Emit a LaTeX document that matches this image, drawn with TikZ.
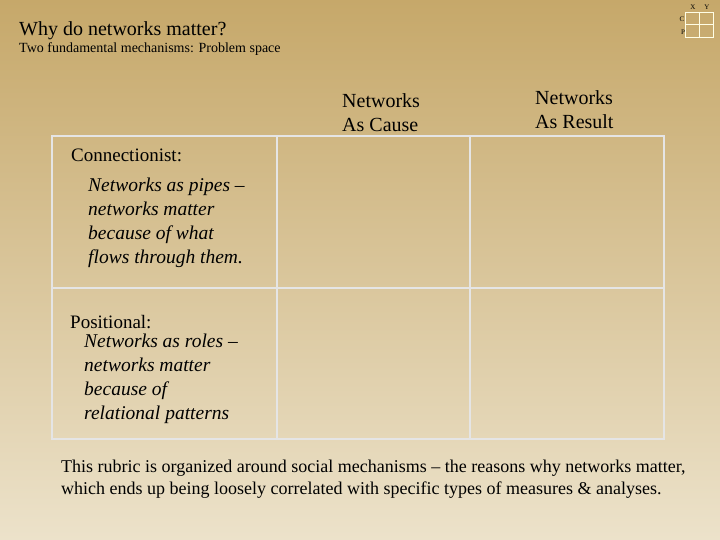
\documentclass[tikz,border=0pt]{standalone}
\usepackage{fontspec}
\setmainfont{Liberation Serif}
\begin{document}
\begin{tikzpicture}[x=1pt,y=-1pt,
  txt/.style={anchor=north west,inner sep=0pt,align=left},
  cellline/.style={draw=white!80!gray,line width=2.5pt},
  tiny/.style={font=\fontsize{7}{7}\selectfont,inner sep=0pt}]
\shade[top color={rgb,255:red,198;green,168;blue,106},bottom color={rgb,255:red,236;green,226;blue,202}] (0,0) rectangle (720,540);
\useasboundingbox (0,0) rectangle (720,540);
% logo
\draw[white!90!yellow,line width=0.8pt] (685,12) rectangle (713,37) (699,12)--(699,37) (685,24.5)--(713,24.5);
\node[tiny] (lx) at (693,7) {X};
\node[tiny] (ly) at (707,7) {Y};
\node[tiny] (lc) at (682,19) {C};
\node[tiny] (lp) at (683,32) {P};
\node[txt,font=\fontsize{20}{22}\selectfont] (title) at (19,21) {Why do networks matter?};
\node[txt,font=\fontsize{14}{16}\selectfont] (sub) at (19,42) {Two fundamental mechanisms: Problem space};
% table
\draw[cellline] (52,136) rectangle (664,439);
\draw[cellline] (277,136)--(277,439) (470,136)--(470,439) (52,288)--(664,288);
\node[txt,font=\fontsize{20}{24}\selectfont] (h1) at (342,93) {Networks\\As Cause};
\node[txt,font=\fontsize{20}{24}\selectfont] (h2) at (535,90) {Networks\\As Result};
\node[txt,font=\fontsize{19}{20}\selectfont] (c1) at (71,149) {Connectionist:};
\node[txt,font=\itshape\fontsize{19.5}{24}\selectfont] (c1b) at (88,178) {Networks as pipes --\\networks matter\\because of what\\flows through them.};
\node[txt,font=\fontsize{19}{20}\selectfont] (c2) at (70,315) {Positional:};
\node[txt,font=\itshape\fontsize{19.5}{24}\selectfont] (c2b) at (84,334) {Networks as roles --\\networks matter\\because of\\relational patterns};
\node[txt,font=\fontsize{18}{22}\selectfont] (foot) at (61,460) {This rubric is organized around social mechanisms -- the reasons why networks matter,\\which ends up being loosely correlated with specific types of measures \& analyses.};
\end{tikzpicture}
\end{document}
